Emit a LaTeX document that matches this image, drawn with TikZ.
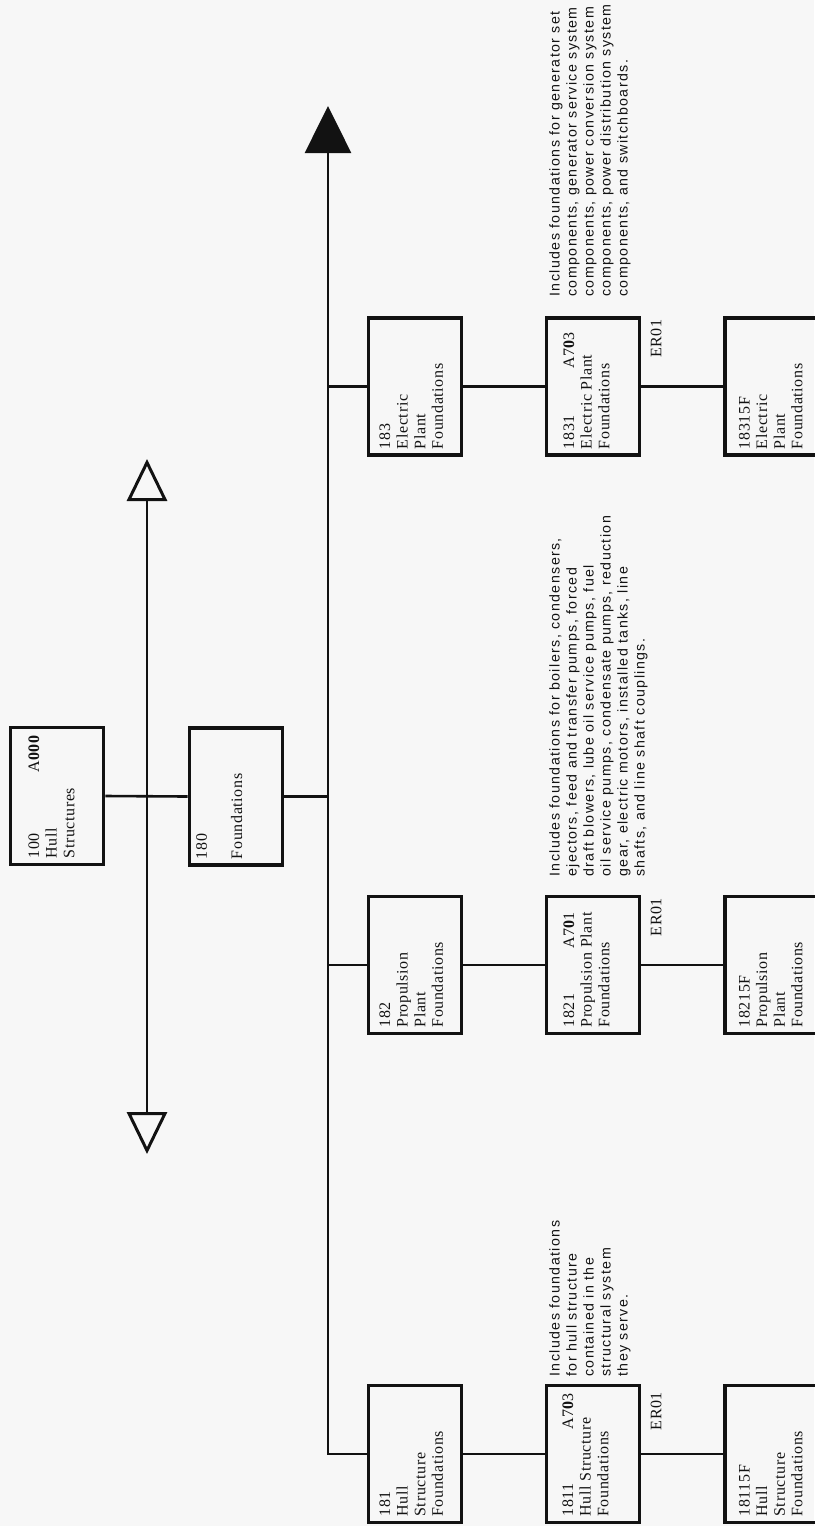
\documentclass[tikz,border=0pt]{standalone}
\usepackage{fontspec}
\setmainfont[LetterSpace=4]{Liberation Serif}
\newfontfamily\descfont[LetterSpace=10]{Liberation Sans}
\usetikzlibrary{arrows.meta,calc}
\definecolor{paper}{RGB}{247,247,247}
\definecolor{ink}{RGB}{18,18,18}
\newcommand{\boxtxt}[2][7pt]{\rotatebox{90}{\parbox[c][46.5pt][t]{68.5pt}{\fontsize{8}{8.8}\selectfont\parindent=0pt\leftskip=3pt\rightskip=4pt\vspace*{#1}#2}}}
\begin{document}
\begin{tikzpicture}[x=0.5pt,y=-0.5pt,
  wbs/.style={draw=ink,line width=1.9pt,inner sep=0pt,text=ink},
  wire/.style={draw=ink,line width=1.3pt},
  desc/.style={rotate=90,anchor=north west,align=left,inner sep=0pt,text=ink,
    font=\descfont\fontsize{7.1}{8.5}\selectfont},
  ercode/.style={rotate=90,anchor=north east,inner sep=0pt,text=ink,
    font=\fontsize{8}{9}\selectfont}]
\fill[paper] (0,0) rectangle (814,1526);
\useasboundingbox (0,0) rectangle (814,1526);

% top level boxes
\node[wbs] (n100) at (57,796) {\boxtxt[9pt]{100\hfill A{\bfseries 000}\\Hull\\Structures}};
\node[wbs] (n180) at (236,796.5) {\boxtxt[3.4pt]{180\\[8.8pt]Foundations}};

% column 1
\node[wbs] (n183) at (415,386.5) {\boxtxt[5.5pt]{183\\Electric\\Plant\\Foundations}};
\node[wbs] (n182) at (415,965) {\boxtxt[5.5pt]{182\\Propulsion\\Plant\\Foundations}};
\node[wbs] (n181) at (415,1454) {\boxtxt[5.5pt]{181\\Hull\\Structure\\Foundations}};

% column 2
\node[wbs] (n1831) at (593,386.5) {\boxtxt[8.5pt]{1831\hfill A7{\bfseries 0}3\hspace*{3pt}\\Electric Plant\\Foundations}};
\node[wbs] (n1821) at (593,965) {\boxtxt[8.5pt]{1821\hfill A7{\bfseries 0}1\hspace*{4pt}\\Propulsion Plant\\Foundations}};
\node[wbs] (n1811) at (593,1454) {\boxtxt[8pt]{1811\hfill A7{\bfseries 0}3\\Hull Structure\\Foundations}};

% column 3
\node[wbs] (n18315F) at (771.5,386.5) {\boxtxt[7pt]{18315F\\Electric\\Plant\\Foundations}};
\node[wbs] (n18215F) at (771.5,965) {\boxtxt[7pt]{18215F\\Propulsion\\Plant\\Foundations}};
\node[wbs] (n18115F) at (771.5,1454) {\boxtxt[7pt]{18115F\\Hull\\Structure\\Foundations}};

% ER01 codes
\node[ercode] (e1831) at ($(n1831.north east)+(9,3)$) {ER01};
\node[ercode] (e1821) at ($(n1821.north east)+(9,3)$) {ER01};
\node[ercode] (e1811) at ($(n1811.north east)+(9,8)$) {ER01};

% descriptions
\node[desc] (t1831) at (549,297) {Includes foundations for generator set\\components, generator service system\\components, power conversion system\\components, power distribution system\\components, and switchboards.};
\node[desc] (t1821) at (549,877) {Includes foundations for boilers, condensers,\\ejectors, feed and transfer pumps, forced\\draft blowers, lube oil service pumps, fuel\\oil service pumps, condensate pumps, reduction\\gear, electric motors, installed tanks, line\\shafts, and line shaft couplings.};
\node[desc] (t1811) at (549,1377) {Includes foundations\\for hull structure\\contained in the\\structural system\\they serve.};

% arrows
\coordinate (btop) at (328,106);
\coordinate (dtop) at (147,459);
\coordinate (dbot) at (147,1154);
\draw[wire,-{Triangle[length=23.5pt,width=23pt]}] (n181.west) -| (btop);
\draw[wire,{Triangle[open,length=21pt,width=20pt,line width=1.5pt]}-{Triangle[open,length=21pt,width=20pt,line width=1.5pt]}] (dbot) -- (dtop);

% connectors
\draw[wire] (n100.east) -- (n180.west);
\draw[wire] (n180.east) -- (n180.east -| btop);
\draw[wire] (n183.west) -- (n183.west -| btop);
\draw[wire] (n182.west) -- (n182.west -| btop);
\draw[wire] (n183.east) -- (n1831.west);
\draw[wire] (n1831.east) -- (n18315F.west);
\draw[wire] (n182.east) -- (n1821.west);
\draw[wire] (n1821.east) -- (n18215F.west);
\draw[wire] (n181.east) -- (n1811.west);
\draw[wire] (n1811.east) -- (n18115F.west);
\end{tikzpicture}
\end{document}
